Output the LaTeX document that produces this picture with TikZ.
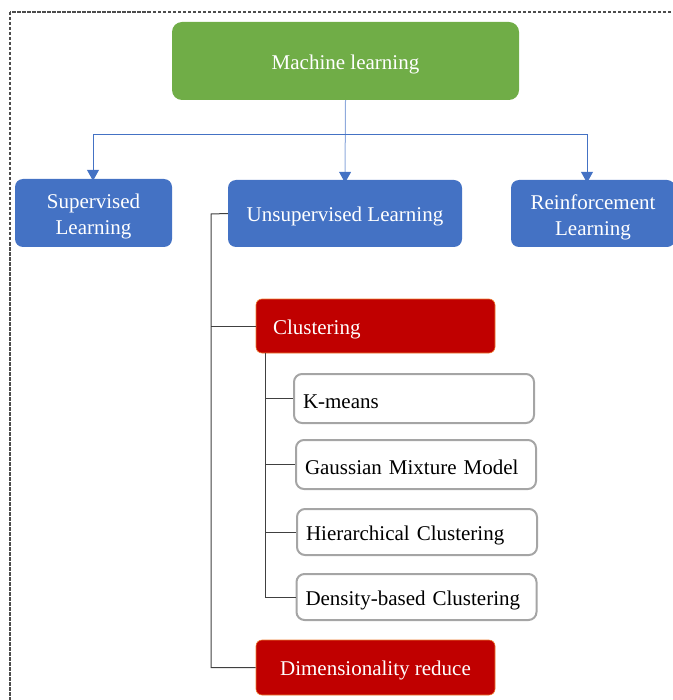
\documentclass[tikz,border=0pt]{standalone}
\usepackage{fontspec}
\setmainfont{Liberation Serif}
\usetikzlibrary{arrows.meta, positioning}
\definecolor{mlgreen}{HTML}{70AD47}
\definecolor{mlblue}{HTML}{4472C4}
\definecolor{mlred}{HTML}{C00000}
\definecolor{mlorange}{HTML}{ED7D31}
\definecolor{mlgray}{HTML}{A5A5A5}
\newcommand{\firstline}{\rule{0pt}{22pt}}
\tikzset{box/.style={rectangle,rounded corners=8pt,align=center,inner sep=3pt,font=\fontsize{21}{26}\selectfont,execute at begin node={\rule{0pt}{21pt}}},
topbox/.style={box,fill=mlgreen,text=white,rounded corners=10pt},
catbox/.style={box,fill=mlblue,text=white},
groupbox/.style={box,fill=mlred,draw=mlorange,line width=0.6pt,text=white,rounded corners=6pt},
leafbox/.style={box,draw=mlgray,line width=2pt,text=black,align=left,text width=222pt,inner xsep=9pt},
line/.style={draw=mlblue,line width=1pt,-{Triangle[width=12pt,length=11pt,color=mlblue]}},
tree/.style={draw=black!75,line width=1pt},
frame/.style={draw=black!70,line width=1.1pt,dash pattern=on 3.5pt off 1.5pt}}

\begin{document}
\begin{tikzpicture}[x=1pt,y=-1pt]
\useasboundingbox (0,0) rectangle (672,700);
\draw[frame] (10,12) rectangle (690,720);
\node[topbox, minimum width=347pt, minimum height=78pt] (ml) at (345.5,61) {Machine learning};
\node[catbox, minimum width=157pt, minimum height=68pt] (sup) at (93.5,213) {\firstline Supervised\\Learning};
\node[catbox, minimum width=234pt, minimum height=67pt] (unsup) at (345,213.5) {Unsupervised Learning};
\node[catbox, minimum width=164pt, minimum height=67pt] (rein) at (593,213.5) {\firstline Reinforcement\\Learning};
\node[groupbox, align=left, text width=205pt, inner xsep=17pt, minimum height=54pt] (clu) at (375.5,326) {Clustering};
\node[leafbox, minimum height=49pt] (km) at (414,398.5) {K-means};
\node[leafbox, minimum height=49pt] (gmm) at (416,464.5) {Gaussian Mixture Model};
\node[leafbox, minimum height=46pt] (hier) at (417,532) {Hierarchical Clustering};
\node[leafbox, minimum height=46pt] (dens) at (416.5,597) {Density-based Clustering};
\node[groupbox, minimum width=239pt, minimum height=55pt] (dim) at (375.5,667.5) {Dimensionality reduce};
% arrows from the top box
\coordinate (split) at (346,135);
\draw[line, draw=mlblue!60] (ml.south) -- ([yshift=-3pt]unsup.north);
\draw[line] (split) -| ([xshift=-0.5pt,yshift=-2pt]sup.north);
\draw[line] (split) -| ([xshift=-6pt,yshift=-3pt]rein.north);
% tree lines
\coordinate (trunk) at (211,214);
\coordinate (subtrunk) at (265,353);
\draw[tree] (unsup.west) -- (trunk) |- (dim.west);
\draw[tree] (clu.west) -- (clu.west -| trunk);
\draw[tree] (subtrunk) |- (dens.west);
\foreach \n in {km,gmm,hier}
  \draw[tree] (\n.west) -- (\n.west -| subtrunk);
\end{tikzpicture}
\end{document}
